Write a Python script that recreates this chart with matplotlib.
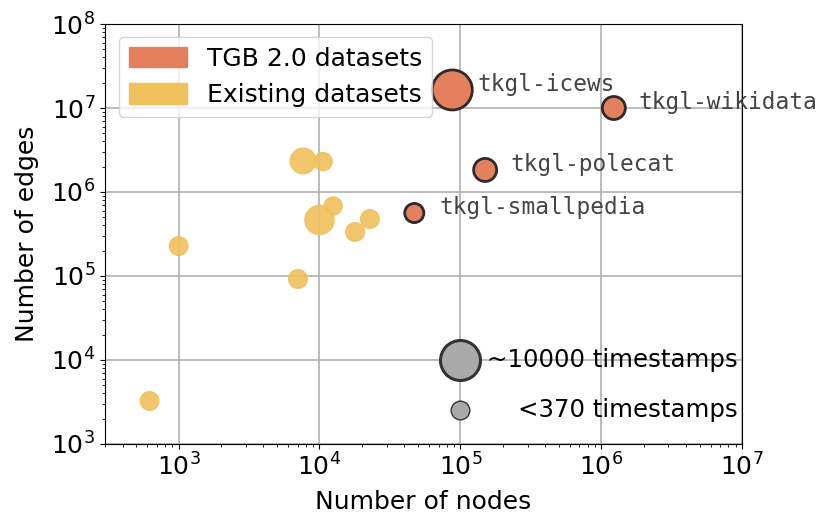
import matplotlib
matplotlib.use("Agg")
import matplotlib.pyplot as plt
from matplotlib.patches import Patch

# Existing datasets
exist_nodes = [622, 1000, 7030, 7640, 10600, 12500, 10000, 17900, 22800]
exist_edges = [3250, 227000, 92000, 2340000, 2300000, 680000, 464000, 334000, 477000]
exist_sizes = [180, 180, 180, 340, 170, 170, 440, 180, 180]

# TGB 2.0 datasets
tgb_names = ["tkgl-icews", "tkgl-wikidata", "tkgl-polecat", "tkgl-smallpedia"]
tgb_nodes = [87700, 1230000, 150000, 47100]
tgb_edges = [16400000, 10000000, 1830000, 562000]
tgb_sizes = [830, 275, 275, 190]

# size reference markers
ref_labels = ["~10000 timestamps", "<370 timestamps"]
ref_nodes = [100000, 100000]
ref_edges = [10000, 2540]
ref_sizes = [830, 180]

orange = "#e5805f"
yellow = "#f0c05c"

fig = plt.figure(figsize=(8.3, 5.3), dpi=100)
ax = fig.add_axes([0.1265, 0.1623, 0.894 - 0.1265, 0.9547 - 0.1623])
ax.set_xscale("log")
ax.set_yscale("log")
ax.set_xlim(300, 1e7)
ax.set_ylim(1e3, 1e8)
ax.grid(True, which="major", color="#b0b0b0", linewidth=1.2)
ax.set_axisbelow(True)

ax.scatter(exist_nodes, exist_edges, s=exist_sizes, color=yellow, alpha=0.9,
           edgecolor=yellow, linewidth=1, zorder=3)
ax.scatter(tgb_nodes, tgb_edges, s=tgb_sizes, color=orange,
           edgecolor="#2b2b2b", linewidth=2, zorder=4)
for n, x, y in zip(tgb_names, tgb_nodes, tgb_edges):
    ax.annotate(n, (x, y), xytext=(18, 4), textcoords="offset points",
                va="center", ha="left", fontsize=16.4, family="DejaVu Sans Mono",
                color="#444444", zorder=5)

ax.scatter(ref_nodes[:1], ref_edges[:1], s=ref_sizes[0], color="#aaaaaa",
           edgecolor="#333333", linewidth=2.2, zorder=4)
ax.scatter(ref_nodes[1:], ref_edges[1:], s=ref_sizes[1], color="#aaaaaa",
           edgecolor="#333333", linewidth=1.0, zorder=4)
for lab, y in zip(ref_labels, ref_edges):
    ax.text(9.3e6, y, lab, ha="right", va="center", fontsize=17.6, color="black", zorder=5)

ax.set_xlabel("Number of nodes", fontsize=18, labelpad=6.5)
ax.set_ylabel("Number of edges", fontsize=18, labelpad=9)
ax.tick_params(axis="both", which="major", labelsize=18)

handles = [Patch(color=orange, label="TGB 2.0 datasets"),
           Patch(color=yellow, label="Existing datasets")]
ax.legend(handles=handles, loc="upper left", fontsize=18, handlelength=2.3,
          handleheight=0.9, bbox_to_anchor=(0.003, 1.0), borderaxespad=0.5,
          labelspacing=0.5, handletextpad=0.8)

fig.savefig("out.png", dpi=100)
